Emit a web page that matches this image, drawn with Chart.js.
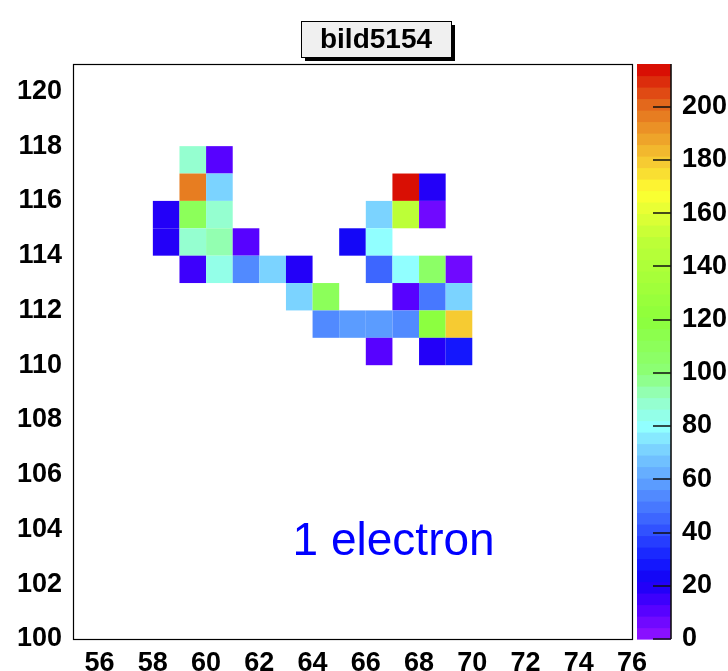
<!DOCTYPE html>
<html>
<head>
<meta charset="utf-8">
<script src="https://cdn.jsdelivr.net/npm/chart.js@4/dist/chart.umd.min.js"></script>
<style>
  html, body { margin: 0; padding: 0; background: #fff; overflow: hidden; }
  #wrap { position: relative; width: 728px; height: 671px; }
</style>
</head>
<body>
<div id="wrap"><canvas id="hist"></canvas></div>
<script>
// bin lower edges (x, y) and bin contents
const cellX = [59, 60,
  59, 60, 67, 68,
  58, 59, 60, 66, 67, 68,
  58, 59, 60, 61, 65, 66,
  59, 60, 61, 62, 63, 66, 67, 68, 69,
  63, 64, 67, 68, 69,
  64, 65, 66, 67, 68, 69,
  66, 68, 69];
const cellY = [117, 117,
  116, 116, 116, 116,
  115, 115, 115, 115, 115, 115,
  114, 114, 114, 114, 114, 114,
  113, 113, 113, 113, 113, 113, 113, 113, 113,
  112, 112, 112, 112, 112,
  111, 111, 111, 111, 111, 111,
  110, 110, 110];
const cellCount = [88, 12,
  195, 70, 214, 20,
  20, 108, 90, 70, 150, 8,
  20, 88, 95, 12, 25, 80,
  15, 85, 55, 70, 20, 45, 80, 105, 6,
  70, 110, 10, 48, 70,
  55, 60, 60, 55, 120, 178,
  10, 20, 28];

const xRange = [55, 76];
const yRange = [100, 121];
const zRange = [0, 216];
const histTitle = "bild5154";
const noteText = "1 electron";

const nLevels = 50;
const stops = [
  [0, [150, 20, 255]], [12, [80, 0, 255]], [22, [20, 0, 245]], [30, [20, 30, 255]],
  [45, [60, 100, 255]], [58, [90, 155, 255]], [70, [120, 205, 255]], [80, [145, 255, 255]],
  [90, [150, 255, 200]], [100, [140, 255, 120]], [120, [140, 255, 60]], [150, [190, 255, 55]],
  [168, [255, 255, 50]], [180, [245, 200, 50]], [200, [228, 110, 30]], [216, [215, 0, 0]]
];

function palette(v) {
  for (let i = 1; i < stops.length; i++) {
    if (v <= stops[i][0]) {
      const a = stops[i - 1], b = stops[i];
      const t = (v - a[0]) / (b[0] - a[0]);
      const c = a[1].map((x, k) => Math.round(x + (b[1][k] - x) * t));
      return `rgb(${c[0]},${c[1]},${c[2]})`;
    }
  }
  const l = stops[stops.length - 1][1];
  return `rgb(${l[0]},${l[1]},${l[2]})`;
}

function levelColor(v) {
  const step = (zRange[1] - zRange[0]) / nLevels;
  const i = Math.min(nLevels - 1, Math.floor((v - zRange[0]) / step));
  return palette(zRange[0] + (i + 0.5) * step);
}

const font = { family: "'Liberation Sans', Arial, sans-serif", size: 27, weight: "bold" };

const colzPlugin = {
  id: "colz",
  beforeDatasetsDraw(chart) {
    const { ctx, scales: { x, y } } = chart;
    ctx.save();
    for (let i = 0; i < cellCount.length; i++) {
      const x0 = x.getPixelForValue(cellX[i]), x1 = x.getPixelForValue(cellX[i] + 1);
      const y0 = y.getPixelForValue(cellY[i] + 1), y1 = y.getPixelForValue(cellY[i]);
      ctx.fillStyle = levelColor(cellCount[i]);
      ctx.fillRect(x0, y0, x1 - x0, y1 - y0);
    }
    ctx.restore();
  },
  afterDraw(chart) {
    const { ctx, chartArea: a, scales: { x, y, z } } = chart;
    ctx.save();
    // frame
    ctx.strokeStyle = "#000";
    ctx.lineWidth = 1.2;
    ctx.strokeRect(Math.round(a.left) + 0.5, Math.round(a.top) + 0.5,
      Math.round(a.right - a.left), Math.round(a.bottom - a.top));

    // palette bar
    const pl = a.right + 5, pr = a.right + 39;
    const step = (zRange[1] - zRange[0]) / nLevels;
    for (let i = 0; i < nLevels; i++) {
      const top = z.getPixelForValue(zRange[0] + (i + 1) * step);
      const bot = z.getPixelForValue(zRange[0] + i * step);
      ctx.fillStyle = palette(zRange[0] + (i + 0.5) * step);
      ctx.fillRect(pl, top, pr - pl, bot - top + 0.6);
    }
    ctx.strokeStyle = "#111";
    ctx.lineWidth = 1.6;
    ctx.beginPath();
    ctx.moveTo(pr, z.getPixelForValue(zRange[1]));
    ctx.lineTo(pr, z.getPixelForValue(zRange[0]));
    z.ticks.forEach(t => {
      const py = Math.round(z.getPixelForValue(t.value));
      ctx.moveTo(pr - 18, py);
      ctx.lineTo(pr, py);
    });
    ctx.stroke();

    // title box
    ctx.font = "bold 28px 'Liberation Sans', Arial, sans-serif";
    const bx = 301, by = 21, bw = 150, bh = 36;
    ctx.fillStyle = "#000";
    ctx.fillRect(bx + 4, by + 4, bw, bh);
    ctx.fillStyle = "#f0f0f0";
    ctx.fillRect(bx, by, bw, bh);
    ctx.strokeStyle = "#000";
    ctx.lineWidth = 1;
    ctx.strokeRect(bx + 0.5, by + 0.5, bw, bh);
    ctx.fillStyle = "#000";
    ctx.textAlign = "center";
    ctx.textBaseline = "middle";
    ctx.fillText(histTitle, bx + bw / 2, by + bh / 2 + 1);

    // annotation
    ctx.font = "46px 'Liberation Sans', Arial, sans-serif";
    ctx.fillStyle = "#0000ff";
    ctx.textAlign = "left";
    ctx.textBaseline = "alphabetic";
    ctx.fillText(noteText, x.getPixelForValue(63.25), y.getPixelForValue(103.05));
    ctx.restore();
  }
};

new Chart(document.getElementById("hist"), {
  type: "scatter",
  data: {
    datasets: [{
      data: cellCount.map((v, i) => ({ x: cellX[i] + 0.5, y: cellY[i] + 0.5, v })),
      pointRadius: 0
    }]
  },
  options: {
    responsive: true,
    maintainAspectRatio: false,
    animation: false,
    layout: { padding: { top: 64 } },
    plugins: { legend: { display: false }, tooltip: { enabled: false } },
    scales: {
      x: {
        type: "linear", position: "bottom", min: xRange[0], max: xRange[1],
        grid: { display: false }, border: { display: false },
        ticks: { stepSize: 2, includeBounds: false, color: "#000", font, padding: 0, maxRotation: 0 },
        afterFit: s => { s.height = 32; s.paddingLeft = 0; s.paddingRight = 0; }
      },
      y: {
        type: "linear", position: "left", min: yRange[0], max: yRange[1],
        grid: { display: false }, border: { display: false },
        ticks: { stepSize: 2, includeBounds: false, color: "#000", font, padding: 3 },
        afterFit: s => { s.width = 73; s.paddingTop = 0; s.paddingBottom = 0; }
      },
      z: {
        type: "linear", position: "right", min: zRange[0], max: zRange[1],
        grid: { display: false }, border: { display: false },
        ticks: { stepSize: 20, includeBounds: false, color: "#000", font, padding: 42 },
        afterFit: s => { s.width = 96; s.paddingTop = 0; s.paddingBottom = 0; }
      }
    }
  },
  plugins: [colzPlugin]
});
</script>
</body>
</html>
